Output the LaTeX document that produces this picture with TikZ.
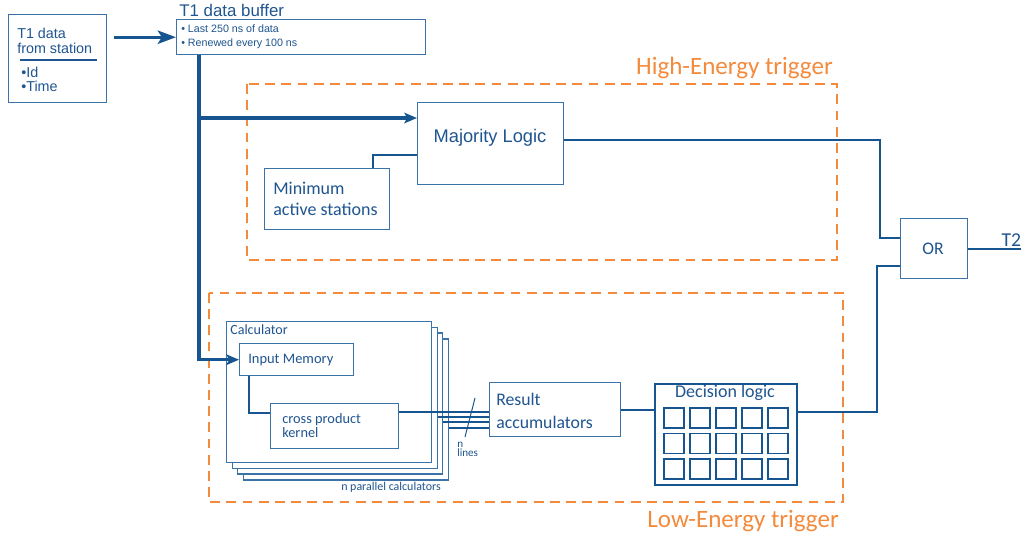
\documentclass[tikz,border=0pt]{standalone}
\usepackage{fontspec}
\setmainfont{Carlito}
\newfontfamily\arialf{Liberation Sans}
\usetikzlibrary{arrows.meta}

\definecolor{linecol}{HTML}{16558F}
\definecolor{boxcol}{HTML}{3B73A8}
\definecolor{txtcol}{HTML}{1F5590}
\definecolor{trigcol}{HTML}{F38A3C}

\tikzset{
  box/.style={draw=boxcol, line width=1pt, fill=white, inner sep=0pt, anchor=north west},
  cell/.style={box, draw=linecol, line width=1.2pt, minimum width=0.5cm, minimum height=0.5cm},
  lbl/.style={text=txtcol, inner sep=0pt, align=left},
  thickln/.style={draw=linecol, line width=2.3pt},
  thinln/.style={draw=linecol, line width=1.4pt},
  bigarr/.style={thickln, -{Stealth[length=13pt,width=9.5pt,inset=3pt]}},
  smallarr/.style={thickln, -{Stealth[length=9pt,width=7.5pt,inset=2pt]}},
  trig/.style={draw=trigcol, line width=1.6pt, dash pattern=on 7pt off 4.5pt},
  triglbl/.style={text=trigcol, inner sep=0pt, font=\fontsize{17.8}{17.8}\selectfont},
}

\begin{document}
\begin{tikzpicture}[x=0.025cm, y=-0.025cm]
\useasboundingbox (0,0) rectangle (1027,535);

% trigger regions
\draw[trig] (247,84) rectangle (837,260);
\node[triglbl, anchor=base east] (helbl) at (833,74) {High-Energy trigger};
\draw[trig] (209,293) rectangle (843,502);
\node[triglbl, anchor=base east] (lelbl) at (839,527) {Low-Energy trigger};

% T1 input
\node[box, minimum width=2.45cm, minimum height=2.2cm] (src) at (8,14) {};
\node[lbl, anchor=north west, font=\arialf\fontsize{10.2}{10.7}\selectfont] (srctxt) at (17,27.8) {T1 data\\from station};
\draw[draw=txtcol, line width=0.8pt] (20,60) -- (97,60);
\node[lbl, anchor=north west, font=\arialf\fontsize{10.2}{10.3}\selectfont] (srcitems) at (21,66.5) {•Id\\•Time};

\node[box, minimum width=6.225cm, minimum height=0.875cm] (buf) at (176,19) {};
\node[lbl, anchor=base west, font=\arialf\fontsize{12}{12}\selectfont] (buftitle) at (179,16) {T1 data buffer};
\node[lbl, anchor=north west, font=\arialf\fontsize{7.6}{10}\selectfont] (buftxt) at (181,24.4) {• Last 250 ns of data\\• Renewed every 100 ns};

\draw[bigarr, shorten <=5pt] (src.east |- buf.west) -- (buf.west);

% high energy part
\node[box, minimum width=3.65cm, minimum height=2.05cm] (maj) at (417,102) {};
\node[lbl, anchor=base, font=\arialf\fontsize{13}{13}\selectfont] (majtxt) at (490,142) {Majority Logic};
\node[box, minimum width=3.125cm, minimum height=1.525cm] (minst) at (264,168) {};
\node[lbl, anchor=north west, font=\fontsize{12.8}{15}\selectfont] (minsttxt) at (273,181.5) {Minimum\\active stations};

% low energy part
\foreach \k in {3,2,1}
  \node[box, minimum width=5.125cm, minimum height=3.525cm] (calc\k) at ({226+5.5*\k},{321+5.7*\k}) {};
\node[box, minimum width=5.125cm, minimum height=3.525cm] (calc0) at (226,321) {};
\node[lbl, anchor=base west, font=\fontsize{10}{10}\selectfont] (calctxt) at (230,334) {Calculator};
\node[box, minimum width=2.85cm, minimum height=0.8cm] (inmem) at (239,343) {};
\node[lbl, anchor=base west, font=\fontsize{10.3}{10.3}\selectfont] (inmemtxt) at (248,363) {Input Memory};
\node[box, minimum width=3.2cm, minimum height=1.125cm] (kern) at (270,403) {};
\node[lbl, anchor=north west, font=\fontsize{10.2}{10}\selectfont] (kerntxt) at (282,413) {cross product\\kernel};
\node[lbl, anchor=base east, font=\fontsize{8.5}{8.5}\selectfont] (ncalc) at (441,490) {n parallel calculators};

\node[box, minimum width=3.275cm, minimum height=1.35cm] (res) at (489,382) {};
\node[lbl, anchor=north west, font=\fontsize{12.6}{16.4}\selectfont] (restxt) at (496,393) {Result\\accumulators};

\node[box, draw=linecol, line width=1.3pt, minimum width=3.55cm, minimum height=2.525cm] (dec) at (654,383) {};
\node[lbl, anchor=base, font=\fontsize{12.8}{12.8}\selectfont] (dectxt) at (725,397) {Decision logic};
\foreach \i in {0,...,4}
  \foreach \j in {0,1,2}
    \node[cell] (c\i\j) at ({663+26*\i},{407+25.5*\j}) {};

% OR gate
\node[box, minimum width=1.675cm, minimum height=1.5cm] (or) at (900,218) {};
\node[lbl, anchor=base, font=\fontsize{12.6}{12.6}\selectfont] (ortxt) at (933,254) {OR};

% data paths
\coordinate (trk) at ([xshift=0.575cm]buf.south west);
\draw[smallarr] (trk) |- (inmem.west);
\coordinate (majin) at ([yshift=-0.4cm]maj.north west);
\draw[smallarr] (trk |- majin) -- (majin);
\draw[thinln] ([xshift=-0.425cm]minst.north east) |- ([yshift=-0.275cm]maj.west);

\draw[thinln] ([xshift=0.25cm]inmem.south west) |- ([yshift=0.34cm]kern.west);
\coordinate (kout) at ([yshift=0.36cm]kern.east);
\draw[thinln] (kout) -- (kout -| res.west);
\foreach \k in {1,2,3} {
  \coordinate (ln\k) at (460,{411+5.7*\k});
  \draw[thinln] (calc\k.east |- ln\k) -- (res.west |- ln\k);
}
\draw[draw=linecol, line width=0.7pt] (475,398) -- (465,437);
\node[lbl, anchor=north west, font=\fontsize{7.9}{6.4}\selectfont] (nlines) at (457,442) {n\\lines};
\draw[thinln] (res.east) -- (res.east -| dec.west);

\coordinate (orin1) at ([yshift=0.275cm]or.west);
\coordinate (orin2) at ([yshift=-0.425cm]or.west);
\draw[thinln] ([yshift=0.1cm]maj.east) -| ([xshift=-0.5cm]orin1) -- (orin1);
\draw[thinln] ([yshift=0.56cm]dec.east) -| ([xshift=-0.575cm]orin2) -- (orin2);
\draw[thinln] (or.east) -- ++(1.325cm,0) coordinate (t2end);
\node[lbl, anchor=base east, font=\fontsize{14}{14}\selectfont] (t2) at ([yshift=0.06cm]t2end) {T2};

\end{tikzpicture}
\end{document}
